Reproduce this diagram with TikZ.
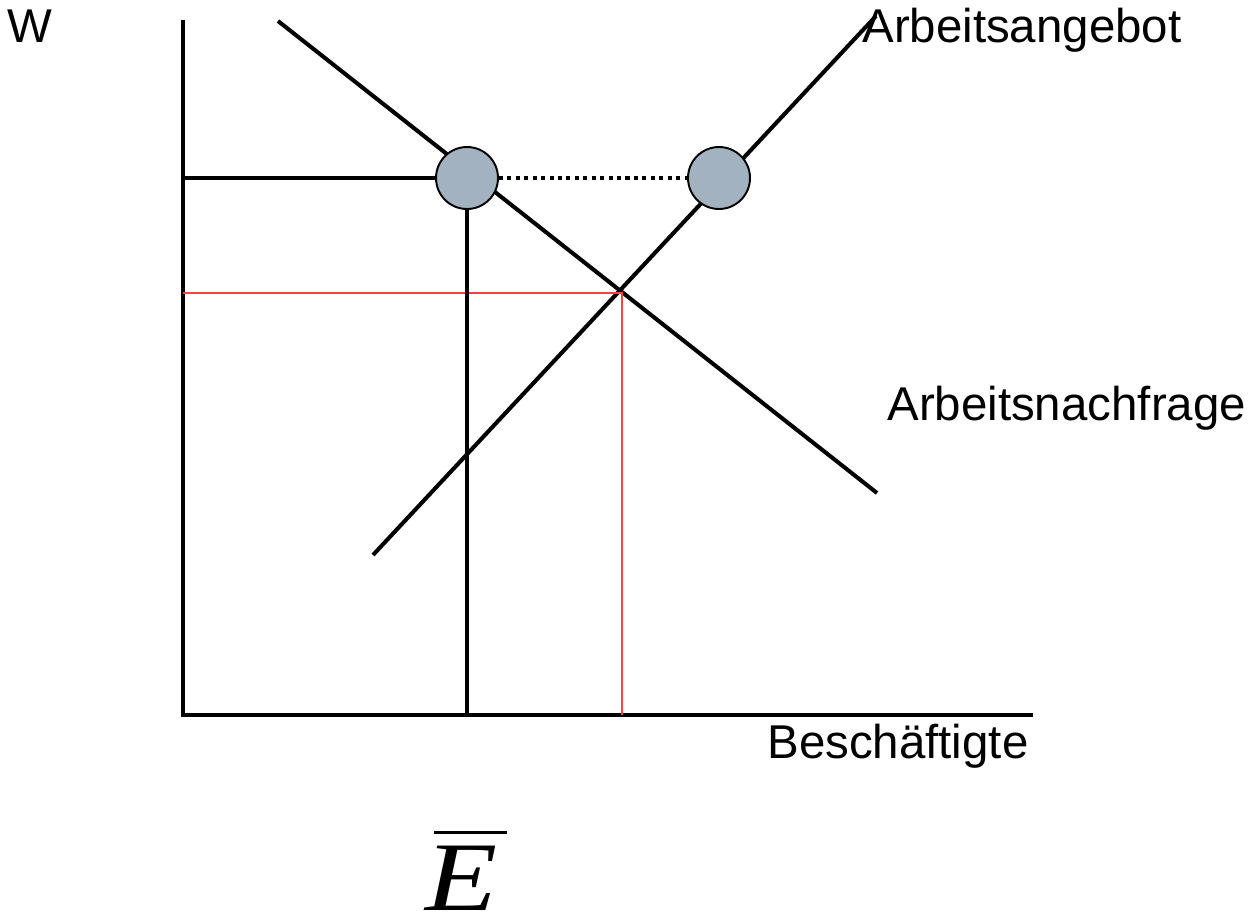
\documentclass[tikz,border=0pt]{standalone}
\usepackage{graphicx}
\usepackage{fontspec}
\setmainfont{Liberation Sans}
\newfontfamily\timesfont{Liberation Serif}
\definecolor{dotgray}{RGB}{162,178,192}
\definecolor{eqred}{RGB}{255,64,64}

\begin{document}
\begin{tikzpicture}[x=0.02cm,y=-0.02cm,
    curve/.style={line width=2.3pt},
    helper/.style={color=eqred, line width=0.85pt},
    point/.style={circle, draw, line width=1.1pt, fill=dotgray, minimum size=1.24cm, inner sep=0pt},
    lbl/.style={anchor=base west, inner sep=0pt, font=\fontsize{27}{31}\selectfont}]
    \useasboundingbox (0,0) rectangle (1248,916);

    % Draw axes
    \coordinate (O) at (183,715);
    \coordinate (ytop) at (183,20);
    \coordinate (xend) at (1033,715);
    \draw[curve] (ytop) -- (O) -- (xend);

    % Demand and supply
    \coordinate (d1) at (278,21);
    \coordinate (d2) at (877,493);
    \coordinate (s1) at (373,555);
    \coordinate (s2) at (876,16);
    \draw[curve] (d1) -- (d2);
    \draw[curve] (s1) -- (s2);

    % Equilibrium (red)
    \coordinate (eq) at (622,293);
    \coordinate (weq) at (183,293);
    \coordinate (neq) at (622,715);
    \draw[helper] (weq) -- (eq) -- (neq);

    % Points at the fixed wage
    \node[point] (p1) at (467,178) {};
    \node[point] (p2) at (719,178) {};
    \coordinate (wmin) at (183,178);
    \coordinate (emin) at (467,715);
    \draw[curve] (wmin) -- (p1);
    \draw[curve] (p1) -- (emin);
    \draw[curve, dash pattern=on 2.3pt off 2.5pt] (p1) -- (p2);

    % Labels
    \node[lbl] (lblW) at (7,42) {W};
    \node[lbl] (lblS) at (862,42) {Arbeitsangebot};
    \node[lbl] (lblD) at (887,420) {Arbeitsnachfrage};
    \node[lbl] (lblX) at (767,758) {Beschäftigte};
    \node[anchor=base west, inner sep=0pt, font=\timesfont\itshape\fontsize{56}{60}\selectfont] (lblE) at (434,910)
        {\rlap{\rule[43pt]{41.6pt}{1.8pt}}\kern-5pt\scalebox{1.2}[1]{E}};
\end{tikzpicture}
\end{document}
